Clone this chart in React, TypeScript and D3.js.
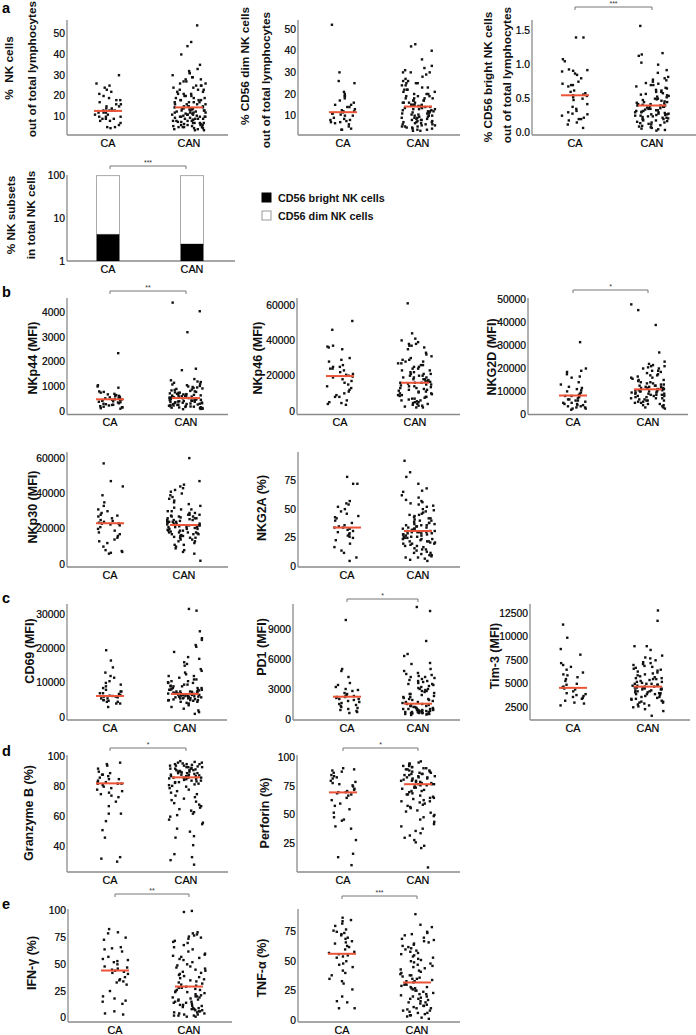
import React from 'react';
import * as d3 from 'd3';

const groups = ['CA', 'CAN'];

// ---- panel a ----
const nkCA = [30,26,25,24,23,22,21,20,19,18,18,17,16,16,15,15,14,14,13,13,13,13,12,12,12,11,11,10,10,10,9,9,9,8,8,7,6,5,5,4.5];
const nkCAN = [54,46,44,40,35,33,32,31,31,30,29,29,28,28,27,27,26,26,25,25,25,24,24,23,23,23,22,22,21,21,21,20,20,20,19,19,19,18,18,18,18,17,17,17,17,16,16,16,16,15,15,15,15,14.5,14.5,14,14,14,13.5,13.5,13,13,13,12.5,12.5,12,12,12,11.5,11.5,11,11,11,10.5,10.5,10,10,10,10,9.5,9.5,9,9,9,8.5,8.5,8,8,8,7.5,7.5,7,7,7,6.5,6.5,6,6,6,5.5,5.5,5,5,5,4.5,4.5,4,4,3.5,3.5,14,13,12,11,10,9,8,7,6,5];
const dimCA = [52,30,26,25,21,20,19,19,18,17,16,15,15,14,14,13,12.5,12,12,11.8,11.5,11,11,10.5,10,10,9,8.5,8,8,7.5,7,7,6.5,6,5,4,3.5,3.5];
const dimCAN = [43,42,40,36,33,32,31,30,30,30,29,28,27,26,26,25,25,25,24,24,23,23,22,22,22,21,21,20,20,20,19,19,19,18,18,18,18,17,17,17,17,16,16,16,16,15,15,15,15,15,14.5,14.5,14,14,14,13.5,13.5,13,13,13,12.5,12.5,12,12,12,11.5,11.5,11,11,11,10.5,10.5,10,10,10,9.5,9.5,9,9,9,8.5,8.5,8,8,8,7.5,7.5,7,7,7,6.5,6.5,6,6,6,5.5,5.5,5,5,5,4.5,4.5,4,4,3.5,3.5,3,3];
const brightCA = [1.4,1.4,1.08,1.05,0.93,0.92,0.91,0.9,0.87,0.85,0.8,0.75,0.72,0.7,0.7,0.68,0.62,0.6,0.58,0.56,0.55,0.54,0.52,0.5,0.48,0.42,0.38,0.35,0.32,0.3,0.28,0.27,0.25,0.22,0.2,0.2,0.18,0.15,0.12,0.07];
const brightCAN = [1.57,1.13,1.17,1.15,1.03,1.0,0.92,0.88,0.82,0.8,0.78,0.77,0.75,0.73,0.72,0.7,0.7,0.68,0.66,0.65,0.63,0.62,0.6,0.6,0.58,0.57,0.56,0.55,0.54,0.53,0.52,0.5,0.5,0.49,0.48,0.47,0.46,0.45,0.45,0.44,0.43,0.42,0.42,0.41,0.4,0.4,0.4,0.39,0.38,0.38,0.37,0.36,0.36,0.35,0.35,0.34,0.33,0.33,0.32,0.32,0.31,0.3,0.3,0.3,0.29,0.28,0.28,0.27,0.27,0.26,0.26,0.25,0.25,0.24,0.24,0.23,0.22,0.22,0.21,0.2,0.2,0.19,0.18,0.18,0.17,0.16,0.15,0.15,0.14,0.13,0.12,0.11,0.1,0.09,0.08,0.07,0.06,0.05,0.04,0.03];
const subsetBright = [4.2, 2.5];
const subsetTotal = [100, 100];
const legendLabels = ['CD56 bright NK cells', 'CD56 dim NK cells'];

// ---- panel b ----
const nkp44CA = [2350,1050,1000,950,800,780,750,700,680,650,620,600,580,560,540,520,500,480,470,460,450,440,420,400,380,360,350,320,300,280,260,250,230,200,180,160,150,120,100];
const nkp44CAN = [4400,4050,3200,1720,1660,1300,1250,1200,1180,1150,1100,1080,1050,1020,1000,980,960,940,920,900,880,860,840,820,800,780,760,750,740,720,700,690,680,670,660,650,640,630,620,610,600,590,580,570,560,550,540,530,520,510,500,490,480,470,460,450,440,430,420,410,400,390,380,370,360,350,340,330,320,310,300,290,280,270,260,250,240,230,220,210,200,190,180,170,160,150,140,130,120,110,100,90,80];
const nkp46CA = [51,46,37,36.5,36,35,30,29,28,26,25,25,24,24,23,22,21,20.5,20,19.5,19,18,17,16,15,14,13,12,11,10,9,8,8,6,5,4.5,4,3.5];
const nkp46CAN = [61,44,41,40,39,38,38,37,37,36,35,33,32,31,30,29,29,28,28,27,27,26,26,25,25,24,24,23,23,22,22,21,21,21,20,20,20,19,19,19,18,18,18,17.5,17,17,16.5,16,16,16,15.5,15,15,14.5,14,14,13.5,13,13,12.5,12,12,11.5,11,11,10.5,10,10,9.5,9,9,8.5,8,8,7.5,7,7,6.5,6,6,5.5,5,5,4.5,4,4,3.5,3,3,2.5,2,2];
const nkg2dCA = [31.5,20,19,18.5,17.5,16.5,16,14,13,12,11.5,11,10.5,10,9.5,9,8.5,8,8,7.5,7,6.5,6.5,6,6,5.5,5,5,4.5,4.5,4,4,3.5,3.5,3,3,2.5,2.5,2];
const nkg2dCAN = [48,45.5,39,27,23,22,21.5,21,21,20.5,20,20,19,19,18.5,18,17.5,17,17,16.5,16,16,15.5,15,15,14.5,14,14,13.5,13.5,13,13,12.5,12.5,12.5,12,12,12,11.5,11.5,11.5,11,11,11,11,10.5,10.5,10.5,10.5,10,10,10,10,9.5,9.5,9.5,9,9,9,8.5,8.5,8.5,8,8,8,7.5,7.5,7,7,7,6.5,6.5,6,6,6,5.5,5.5,5,5,4.5,4.5,4,4,3.5,3,3,2.5];
const nkp30CA = [57,47,44,39,35,33,31,30,29,28,27.5,27,26,25,24.5,24,23.5,23,23,22.5,22,21,20,19,18,17,16,15,14,13,12,10,8,7.5,7,6.5,6];
const nkp30CAN = [60,47,45,44,43,42,41,40,39,38,37,36,35,34,33,32,31,31,30,30,29,29,28,28,27.5,27,27,26.5,26,26,25.5,25,25,24.5,24,24,23.5,23,23,22.5,22,22,21.5,21,21,20.5,20,20,19.5,19,19,18.5,18,18,17.5,17,17,16.5,16,16,15.5,15,15,14,13,12,11,10,9,8,7,6,2,28,26,24,22,20,18,16,25,23,21,19,17,15,13,11,27,24,21,18,14];
const nkg2aCA = [78,72,72,57,55,54,52,50,48,46,44,43,42,40,38,36,35,34,34,33,32,31,30,29,28,27,26,25,23,20,17,14,12,8,5];
const nkg2aCAN = [92,82,78,72,68,66,65,62,60,58,57,56,55,54,53,52,50,49,48,47,46,45,44,43,42,41,40,40,39,38,37,36,36,35,35,34,34,33,33,32,32,31,31,31,30,30,30,29,29,28,28,27,27,26,26,25,25,24,24,23,22,22,21,20,20,19,18,17,16,15,14,13,12,11,10,9,8,7,6,5,38,36,33,30,28,26,24,22,20,18,15,12,10,8,45,42,37,29,21];

// ---- panel c ----
const cd69CA = [19.5,16.5,14.5,13,12,11.5,10.5,10,9.5,9,8.5,8,7.5,7.5,7,7,6.8,6.5,6.3,6.2,6,6,5.8,5.5,5.5,5,5,4.8,4.5,4.5,4,4,3];
const cd69CAN = [31.5,31,25,23,22.5,21,20.5,19,17.5,17,16,15.5,15,14,13.5,13,12.5,12,12,11.5,11,11,10.5,10.5,10,10,9.5,9.5,9,9,9,8.5,8.5,8.5,8,8,8,8,7.5,7.5,7.5,7.5,7.2,7,7,7,7,6.8,6.8,6.5,6.5,6.5,6.3,6.2,6,6,6,5.8,5.8,5.5,5.5,5.5,5.3,5,5,5,4.8,4.5,4.5,4.2,4,3.5,3,2.5,2,1.5,1,7.8,7.2,6.9,6.6,6.2,5.9,5.6,5.2,4.9,7.4,6.7,6.1,5.7,8.2,9.2,10.2];
const pd1CA = [9.9,5,4.8,4.2,3.6,3.4,3.2,3,2.9,2.8,2.6,2.5,2.4,2.3,2.3,2.2,2.2,2.1,2,2,1.9,1.8,1.7,1.6,1.5,1.4,1.3,1.2,1.1,1,0.9,0.8,0.7,0.6];
const pd1CAN = [11.2,10.8,7.8,6.5,6.3,5.6,5.5,5,4.8,4.6,4.5,4.4,4.3,4.2,4.1,4,3.9,3.8,3.7,3.6,3.5,3.4,3.3,3.2,3.1,3,3,2.9,2.8,2.7,2.6,2.5,2.4,2.3,2.2,2.1,2,2,1.9,1.8,1.7,1.6,1.5,1.5,1.4,1.4,1.3,1.3,1.2,1.2,1.1,1.1,1.1,1,1,1,0.95,0.9,0.9,0.9,0.85,0.8,0.8,0.8,0.75,0.7,0.7,0.7,0.65,0.6,0.6,0.6,0.55,0.5,0.5,0.5,0.45,0.4,3.5,2.8,2.5,1.9,1.6,1.3,1.0,0.8,0.7,0.6,4.2,3.8,2.2,1.7];
const timCA = [11.3,9.9,8.7,8.1,7.2,7,6.8,6.5,6.2,6,5.9,5.7,5.5,5.3,5,4.9,4.7,4.6,4.5,4.4,4.2,4,3.9,3.8,3.7,3.6,3.5,3.4,3.2,3,2.9,2.7];
const timCAN = [12.8,11.7,9,9,8.6,8,7.8,7.7,7.5,7.3,7.2,7,6.9,6.8,6.7,6.5,6.4,6.3,6.2,6.1,6,5.9,5.8,5.7,5.6,5.5,5.5,5.4,5.3,5.2,5.1,5,5,4.9,4.9,4.8,4.8,4.7,4.7,4.6,4.6,4.5,4.5,4.4,4.4,4.3,4.3,4.2,4.2,4.1,4,4,3.9,3.9,3.8,3.7,3.6,3.5,3.4,3.3,3.2,3.1,3,3,2.9,2.8,2.7,2.6,2.5,2.3,2.1,1.6,5.2,4.6,4.1,3.6,3.1,5.6,6.6,7.1,5.0,4.4,3.9,3.4];

// ---- panel d ----
const gzCA = [96,95,94,92,90,89,88,88,87,86,85,85,84,83,83,82,82,82,81,80,79,78,77,76,75,74,73,70,67,62,62,57,51,46,33,32,30];
const gzCAN = [97,96.5,96,96,95.5,95,95,94.5,94,94,93.5,93,93,92.5,92,92,91.5,91,91,90.5,90,90,89.5,89,89,88.5,88,88,87.5,87,87,86.5,86,86,86,85.5,85,85,84.5,84,84,83.5,83,83,82.5,82,81.5,81,80.5,80,79,78,77,76,75,74,73,72,71,70,69,68,67,66,65,64,63,62,61,60,58,56,55,52,50,47,46,41,35,33,31,28,95,94,93,92,91,90,89,88,87,87,86,85];
const perfCA = [91,90,89,88,87,85,84,83,82,80,79,78,77,76,75,73,72,71,70,70,69,68,67,65,63,60,58,55,52,48,46,45,40,38,28,16,13,6];
const perfCAN = [97,96,95,95,94,93,93,92,91,91,90,90,89,88,88,87,87,86,86,85,85,84,84,83,83,82,82,81,81,80,80,79,79,78,78,77,77,76,76,75,74,73,72,71,70,69,68,67,66,65,64,63,62,61,60,59,58,56,54,52,50,48,46,44,42,40,38,36,34,32,30,28,26,23,21,4,92,89,86,83,80,77,74,71,68,65,62,57,53,49];

// ---- panel e ----
const ifnCA = [83,80,79,75,73,66,65,64,62,57,55,54,53,52,50,48,47,46,45,44,43,42,41,38,36,35,34,33,31,25,20,18,16,15,13,6,4,3];
const ifnCAN = [100,99,80,79,78,77,76,75,74,72,71,70,68,66,64,62,60,59,58,57,56,55,54,52,50,49,48,47,46,45,44,43,42,41,40,39,38,37,36,35,34,33,32,31,30,29,28,27,26,25,24,23,22,21,20,19,18,17,16,15,14,13,12,11,10,9,8,7,6,5,4,3,2,1,28,24,20,17,14,11,9,7,5,3,2,1,26,19,15,12,8,6,4,2];
const tnfCA = [87,85,84,82,80,77,76,75,74,73,72,70,69,67,66,65,63,62,60,58,57,56,55,54,53,50,48,47,45,42,40,38,35,33,31,26,20,16,15,10,10];
const tnfCAN = [90,81,79,75,74,73,72,70,69,68,67,66,65,64,63,62,61,60,59,58,57,56,55,54,53,52,51,50,49,48,47,46,45,44,43,42,41,40,39,38,37,36,35,34,33,32,31,30,29,28,27,26,25,24,23,22,21,20,19,18,17,16,15,14,13,12,11,10,9,8,7,6,5,4,3,2,1,35,30,25,20,15,12,10,8,6,4,38,28,22,18,33,27];

// medians (red lines) [CA, CAN]
const medNK = [12.8, 14.5];
const medDim = [11.6, 14.2];
const medBright = [0.55, 0.40];
const medNKp44 = [480, 530];
const medNKp46 = [19800, 16000];
const medNKG2D = [8200, 10900];
const medNKp30 = [23200, 22200];
const medNKG2A = [34, 31];
const medCD69 = [6200, 6800];
const medPD1 = [2230, 1530];
const medTim = [4570, 4700];
const medGz = [82.2, 86.2];
const medPerf = [69.8, 77];
const medIFN = [44.2, 29.2];
const medTNF = [56.3, 31.9];

// tick values
const ticksNK = [10, 20, 30, 40, 50];
const ticksBright = [0, 0.5, 1.0, 1.5];
const ticksSubset = [1, 10, 100];
const ticksNKp44 = [0, 1000, 2000, 3000, 4000];
const ticks60k = [0, 20000, 40000, 60000];
const ticksNKG2D = [0, 10000, 20000, 30000, 40000, 50000];
const ticksNKG2A = [0, 25, 50, 75];
const ticksCD69 = [0, 10000, 20000, 30000];
const ticksPD1 = [0, 3000, 6000, 9000];
const ticksTim = [2500, 5000, 7500, 10000, 12500];
const ticksGz = [40, 60, 80, 100];
const ticksPerf = [25, 50, 75, 100];
const ticksIFN = [0, 25, 50, 75, 100];
const ticksTNF = [0, 25, 50, 75];

const FONT = '"Liberation Sans", Arial, Helvetica, sans-serif';
const RED = '#ec5438';
const AXIS = '#8a8a8a';

type TitleLine = { t: string; x: number; y: number };
type Panel = {
  lines: TitleLine[];
  fs: number;
  ax: number;
  xEnd: number;
  cats: [number, number];
  top: number;
  bottom: number;
  domain: [number, number];
  ticks: number[];
  fmt: (v: number) => string;
  ca: number[];
  can: number[];
  unit: number;
  med: number[];
  stars?: string;
  brY?: number;
};

const fInt = d3.format('d');
const f1 = d3.format('.1f');

const panels: Panel[] = [
  { lines: [{ t: '%\u00a0\u00a0NK cells', x: 9, y: 68 }, { t: 'out of total lymphocytes', x: 32, y: 69 }], fs: 11.8,
    ax: 67, xEnd: 228, cats: [108, 189], top: 20, bottom: 135, domain: [1.2, 56.6], ticks: ticksNK, fmt: fInt,
    ca: nkCA, can: nkCAN, unit: 1, med: medNK },
  { lines: [{ t: '% CD56 dim NK cells', x: 245, y: 66 }, { t: 'out of total lymphocytes', x: 266, y: 80 }], fs: 11.8,
    ax: 298, xEnd: 460, cats: [343, 418], top: 20, bottom: 135, domain: [1.06, 54.2], ticks: ticksNK, fmt: fInt,
    ca: dimCA, can: dimCAN, unit: 1, med: medDim },
  { lines: [{ t: '% CD56 bright NK cells', x: 488, y: 77 }, { t: 'out of total lymphocytes', x: 507, y: 75 }], fs: 11.8,
    ax: 532, xEnd: 696, cats: [575, 652], top: 20, bottom: 135, domain: [-0.034, 1.657], ticks: ticksBright, fmt: f1,
    ca: brightCA, can: brightCAN, unit: 1, med: medBright, stars: '***', brY: 7 },
  { lines: [{ t: 'NKp44 (MFI)', x: 33, y: 358 }], fs: 12.5,
    ax: 67, xEnd: 228, cats: [110, 186], top: 298, bottom: 414.5, domain: [-136, 4587], ticks: ticksNKp44, fmt: fInt,
    ca: nkp44CA, can: nkp44CAN, unit: 1, med: medNKp44, stars: '**', brY: 291 },
  { lines: [{ t: 'NKp46 (MFI)', x: 258, y: 358 }], fs: 12.5,
    ax: 297, xEnd: 460, cats: [340, 415], top: 298, bottom: 414.5, domain: [-1983, 64023], ticks: ticks60k, fmt: fInt,
    ca: nkp46CA, can: nkp46CAN, unit: 1000, med: medNKp46 },
  { lines: [{ t: 'NKG2D (MFI)', x: 492, y: 357 }], fs: 12.5,
    ax: 528, xEnd: 688, cats: [573, 648], top: 298, bottom: 414.5, domain: [-87, 50786], ticks: ticksNKG2D, fmt: fInt,
    ca: nkg2dCA, can: nkg2dCAN, unit: 1000, med: medNKG2D, stars: '*', brY: 290 },
  { lines: [{ t: 'NKp30 (MFI)', x: 33, y: 507 }], fs: 12.5,
    ax: 67, xEnd: 228, cats: [110, 184], top: 452, bottom: 567, domain: [-1525, 63446], ticks: ticks60k, fmt: fInt,
    ca: nkp30CA, can: nkp30CAN, unit: 1000, med: medNKp30 },
  { lines: [{ t: 'NKG2A (%)', x: 262, y: 508 }], fs: 12.5,
    ax: 298, xEnd: 460, cats: [347, 418], top: 452, bottom: 567, domain: [-0.26, 99.6], ticks: ticksNKG2A, fmt: fInt,
    ca: nkg2aCA, can: nkg2aCAN, unit: 1, med: medNKG2A },
  { lines: [{ t: 'CD69 (MFI)', x: 30, y: 651 }], fs: 12.5,
    ax: 67, xEnd: 227, cats: [110, 185], top: 604, bottom: 720, domain: [-785, 32935], ticks: ticksCD69, fmt: fInt,
    ca: cd69CA, can: cd69CAN, unit: 1000, med: medCD69 },
  { lines: [{ t: 'PD1 (MFI)', x: 262, y: 647 }], fs: 12.5,
    ax: 293, xEnd: 460, cats: [347, 418], top: 604, bottom: 720, domain: [-100, 11500], ticks: ticksPD1, fmt: fInt,
    ca: pd1CA, can: pd1CAN, unit: 1000, med: medPD1, stars: '*', brY: 599 },
  { lines: [{ t: 'Tim-3 (MFI)', x: 495, y: 656 }], fs: 12.5,
    ax: 530, xEnd: 690, cats: [573, 648], top: 604, bottom: 720, domain: [1149, 13489], ticks: ticksTim, fmt: fInt,
    ca: timCA, can: timCAN, unit: 1000, med: medTim },
  { lines: [{ t: 'Granzyme B (%)', x: 29, y: 813 }], fs: 12.5,
    ax: 67, xEnd: 228, cats: [110, 186], top: 755, bottom: 872, domain: [23.1, 101.1], ticks: ticksGz, fmt: fInt,
    ca: gzCA, can: gzCAN, unit: 1, med: medGz, stars: '*', brY: 748 },
  { lines: [{ t: 'Perforin (%)', x: 265, y: 813 }], fs: 12.5,
    ax: 297, xEnd: 460, cats: [343, 418], top: 755, bottom: 872, domain: [0, 102.6], ticks: ticksPerf, fmt: fInt,
    ca: perfCA, can: perfCAN, unit: 1, med: medPerf, stars: '*', brY: 748 },
  { lines: [{ t: 'IFN-\u03b3 (%)', x: 32, y: 963 }], fs: 12.5,
    ax: 68, xEnd: 232, cats: [115, 189], top: 909, bottom: 1022, domain: [-4.0, 101.8], ticks: ticksIFN, fmt: fInt,
    ca: ifnCA, can: ifnCAN, unit: 1, med: medIFN, stars: '**', brY: 894 },
  { lines: [{ t: 'TNF-\u03b1 (%)', x: 262, y: 968 }], fs: 12.5,
    ax: 298, xEnd: 460, cats: [342, 417], top: 909, bottom: 1022, domain: [-1.7, 94.4], ticks: ticksTNF, fmt: fInt,
    ca: tnfCA, can: tnfCAN, unit: 1, med: medTNF, stars: '***', brY: 896 },
];

// deterministic horizontal spread for the dot columns (layout only)
const spread = (i: number, seed: number) => {
  const s = Math.sin((i + 1) * 12.9898 + seed * 78.233) * 43758.5453;
  return s - Math.floor(s);
};

function Bracket({ x1, x2, y, stars }: { x1: number; x2: number; y: number; stars: string }) {
  return (
    <g>
      <path d={`M${x1},${y + 3}V${y}H${x2}V${y + 3}`} fill="none" stroke="#777" strokeWidth={1} />
      <text x={(x1 + x2) / 2} y={y - 1.5} textAnchor="middle" fontSize={7} fontFamily={FONT} fill="#333">{stars}</text>
    </g>
  );
}

function DotPanel({ p, idx }: { p: Panel; idx: number }) {
  const y = d3.scaleLinear().domain(p.domain).range([p.bottom, p.top]);
  const x = d3.scalePoint<string>().domain(groups).range(p.cats);
  const series = [p.ca, p.can];
  const halfW = [13, 17];
  return (
    <g>
      {p.lines.map((l, i) => (
        <text key={i} transform={`translate(${l.x},${l.y}) rotate(-90)`} textAnchor="middle" dominantBaseline="central"
          fontSize={p.fs} fontWeight="bold" fontFamily={FONT} fill="#111" style={{ whiteSpace: 'pre' }}>{l.t}</text>
      ))}
      <line x1={p.ax} x2={p.ax} y1={p.top} y2={p.bottom} stroke={AXIS} strokeWidth={1.3} />
      <line x1={p.ax} x2={p.xEnd} y1={p.bottom} y2={p.bottom} stroke={AXIS} strokeWidth={1.3} />
      {p.ticks.map((t) => (
        <text key={t} x={p.ax - 2} y={y(t)} textAnchor="end" dominantBaseline="central" fontSize={10.3}
          fontFamily={FONT} fill="#000" stroke="#000" strokeWidth={0.2}>{p.fmt(t)}</text>
      ))}
      {groups.map((g) => (
        <text key={g} x={x(g)} y={p.bottom + 7.5} textAnchor="middle" dominantBaseline="central" fontSize={10.8}
          fontFamily={FONT} fill="#000" stroke="#000" strokeWidth={0.2}>{g}</text>
      ))}
      {series.map((vals, gi) =>
        vals.map((v, i) => {
          const cx = (x(groups[gi]) as number) + (spread(i, idx * 2 + gi) - 0.5) * 2 * halfW[gi];
          const cy = y(v * p.unit);
          return <rect key={`${gi}-${i}`} x={cx - 1.2} y={cy - 1.2} width={2.4} height={2.4} fill="#111" />;
        })
      )}
      {groups.map((g, gi) => (
        <line key={g} x1={(x(g) as number) - 14} x2={(x(g) as number) + 14} y1={y(p.med[gi])} y2={y(p.med[gi])}
          stroke={RED} strokeWidth={2} />
      ))}
      {p.stars && p.brY !== undefined && (
        <Bracket x1={x('CA') as number} x2={x('CAN') as number} y={p.brY} stars={p.stars} />
      )}
    </g>
  );
}

function SubsetPanel() {
  const y = d3.scaleLog().domain([1, 100]).range([261, 175.6]);
  const x = d3.scalePoint<string>().domain(groups).range([108, 192]);
  const bw = 23;
  return (
    <g>
      {['% NK subsets', 'in total NK cells'].map((t, i) => (
        <text key={i} transform={`translate(${i === 0 ? 11 : 31},215) rotate(-90)`} textAnchor="middle"
          dominantBaseline="central" fontSize={11.8} fontWeight="bold" fontFamily={FONT} fill="#111">{t}</text>
      ))}
      <line x1={67} x2={67} y1={175} y2={261} stroke={AXIS} strokeWidth={1.3} />
      <line x1={67} x2={235} y1={261} y2={261} stroke={AXIS} strokeWidth={1.3} />
      {ticksSubset.map((t) => (
        <text key={t} x={65} y={y(t)} textAnchor="end" dominantBaseline="central" fontSize={10.3} fontFamily={FONT}
          fill="#000" stroke="#000" strokeWidth={0.2}>{t}</text>
      ))}
      {groups.map((g, i) => {
        const cx = x(g) as number;
        return (
          <g key={g}>
            <rect x={cx - bw / 2} y={y(subsetTotal[i])} width={bw} height={y(subsetBright[i]) - y(subsetTotal[i])}
              fill="#fff" stroke="#aaa" strokeWidth={1} />
            <rect x={cx - bw / 2} y={y(subsetBright[i])} width={bw} height={y(1) - y(subsetBright[i])} fill="#000" />
            <text x={cx} y={268.5} textAnchor="middle" dominantBaseline="central" fontSize={10.8} fontFamily={FONT}
              fill="#000" stroke="#000" strokeWidth={0.2}>{g}</text>
          </g>
        );
      })}
      <Bracket x1={110} x2={186} y={166} stars="***" />
      {legendLabels.map((l, i) => (
        <g key={l}>
          <rect x={262} y={193 + i * 18} width={9} height={9} fill={i === 0 ? '#000' : '#fff'} stroke={i === 0 ? '#000' : '#999'} strokeWidth={1} />
          <text x={278} y={197.5 + i * 18} dominantBaseline="central" fontSize={10.8} fontWeight="bold" fontFamily={FONT} fill="#111">{l}</text>
        </g>
      ))}
    </g>
  );
}

const letters = [
  { t: 'a', y: 13 },
  { t: 'b', y: 297 },
  { t: 'c', y: 603 },
  { t: 'd', y: 756 },
  { t: 'e', y: 909 },
];

export default function App() {
  return (
    <svg width={696} height={1035} viewBox="0 0 696 1035"
      style={{ position: 'absolute', left: 0, top: 0, background: '#fff', display: 'block' }}>
      <rect width={696} height={1035} fill="#fff" />
      {letters.map((l) => (
        <text key={l.t} x={2} y={l.y} fontSize={14.5} fontWeight="bold" fontFamily={FONT} fill="#000">{l.t}</text>
      ))}
      {panels.map((p, i) => <DotPanel key={i} p={p} idx={i} />)}
      <SubsetPanel />
    </svg>
  );
}
